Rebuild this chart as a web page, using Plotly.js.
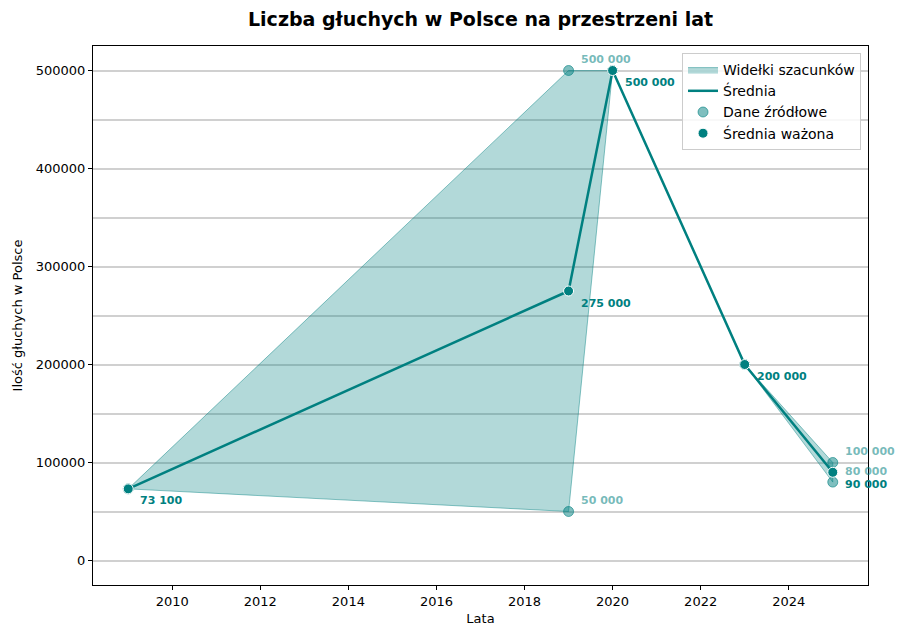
<!DOCTYPE html>
<html>
<head>
<meta charset="utf-8">
<script src="https://cdn.plot.ly/plotly-3.0.1.min.js"></script>
<style>
  html, body { margin: 0; padding: 0; background: #fff; }
  #chart { width: 904px; height: 638px; }
</style>
</head>
<body>
<div id="chart"></div>
<script>
// ─── Data ─────────────────────────────────────────────────────────────────────
const years = [2009, 2019, 2020, 2023, 2025];
const lowerEst = [73100, 50000, 500000, 200000, 80000];
const upperEst = [73100, 500000, 500000, 200000, 100000];
const weightedMean = [73100, 275000, 500000, 200000, 90000];

const sourceYears = [2009, 2019, 2019, 2020, 2023, 2025, 2025];
const sourceValues = [73100, 50000, 500000, 500000, 200000, 80000, 100000];

// labels for the light source points (only ranges that differ from the mean)
const srcLabelYears = [2019, 2019, 2025, 2025];
const srcLabelValues = [500000, 50000, 100000, 80000];

const TEAL = '#008080';
const TEAL_LIGHT = 'rgba(0,128,128,0.5)';
const FONT = 'DejaVu Sans, sans-serif';

const fmt = v => String(v).replace(/\B(?=(\d{3})+(?!\d))/g, ' ');

// ─── Traces ───────────────────────────────────────────────────────────────────
const bandTrace = {
    type: 'scatter', mode: 'lines',
    x: [...years, ...years.slice().reverse()],
    y: [...upperEst, ...lowerEst.slice().reverse()],
    fill: 'toself',
    fillcolor: 'rgba(0,128,128,0.3)',
    line: { color: 'rgba(0,128,128,0.45)', width: 1 },
    name: 'Widełki szacunków',
    hoverinfo: 'skip',
};

const meanLine = {
    type: 'scatter', mode: 'lines',
    x: years, y: weightedMean,
    name: 'Średnia',
    line: { color: TEAL, width: 2.5 },
};

const sourcePts = {
    type: 'scatter', mode: 'markers',
    x: sourceYears, y: sourceValues,
    name: 'Dane źródłowe',
    marker: { color: TEAL_LIGHT, size: 10, line: { color: 'rgba(0,128,128,0.6)', width: 1 } },
};

const meanPts = {
    type: 'scatter', mode: 'markers',
    x: years, y: weightedMean,
    name: 'Średnia ważona',
    marker: { color: TEAL, size: 10, line: { color: '#ffffff', width: 1 } },
};

// ─── Annotations ──────────────────────────────────────────────────────────────
const annotations = [];
years.forEach((yr, i) => {
    annotations.push({
        x: yr, y: weightedMean[i], xref: 'x', yref: 'y',
        text: '<b>' + fmt(weightedMean[i]) + '</b>',
        showarrow: false, xanchor: 'left', yanchor: 'middle',
        xshift: 10, yshift: -12,
        font: { family: FONT, size: 11, color: TEAL },
    });
});
srcLabelYears.forEach((yr, i) => {
    annotations.push({
        x: yr, y: srcLabelValues[i], xref: 'x', yref: 'y',
        text: '<b>' + fmt(srcLabelValues[i]) + '</b>',
        showarrow: false, xanchor: 'left', yanchor: 'middle',
        xshift: 10, yshift: 11,
        font: { family: FONT, size: 11, color: 'rgba(0,128,128,0.55)' },
    });
});
annotations.push({
    text: '<b>Liczba głuchych w Polsce na przestrzeni lat</b>',
    xref: 'paper', yref: 'paper', x: 0.5, y: 1, yshift: 27,
    xanchor: 'center', yanchor: 'middle', showarrow: false,
    font: { family: FONT, size: 19, color: '#000' },
});

// ─── Layout ───────────────────────────────────────────────────────────────────
const layout = {
    width: 904, height: 638,
    paper_bgcolor: '#ffffff', plot_bgcolor: '#ffffff',
    font: { family: FONT, size: 13, color: '#000' },
    margin: { l: 93, r: 36, t: 46, b: 53 },
    showlegend: true,
    legend: {
        x: 0.991, y: 0.987, xanchor: 'right', yanchor: 'top',
        bgcolor: 'rgba(255,255,255,0.85)', bordercolor: '#cccccc', borderwidth: 1,
        font: { family: FONT, size: 14 },
        tracegroupgap: 0, itemwidth: 30,
    },
    xaxis: {
        range: [2008.2, 2025.8],
        tickvals: [2010, 2012, 2014, 2016, 2018, 2020, 2022, 2024],
        showgrid: false, zeroline: false,
        showline: true, linecolor: '#000', linewidth: 1, mirror: true,
        ticks: 'outside', ticklen: 4, tickcolor: '#000',
        tickfont: { size: 13 },
        title: { text: 'Lata', font: { size: 13 }, standoff: 6 },
    },
    yaxis: {
        range: [-25000, 525000],
        dtick: 100000, tick0: 0, tickformat: 'd',
        showgrid: true, gridcolor: '#d0d0d0', gridwidth: 2,
        minor: { dtick: 50000, showgrid: true, gridcolor: '#d0d0d0', gridwidth: 2, ticks: '' },
        zeroline: false,
        showline: true, linecolor: '#000', linewidth: 1, mirror: true,
        ticks: 'outside', ticklen: 4, tickcolor: '#000',
        tickfont: { size: 13 },
        title: { text: 'Ilość głuchych w Polsce', font: { size: 13 }, standoff: 10 },
    },
    annotations: annotations,
};

Plotly.newPlot('chart', [bandTrace, meanLine, sourcePts, meanPts], layout, {
    displayModeBar: false, staticPlot: true,
});
</script>
</body>
</html>
